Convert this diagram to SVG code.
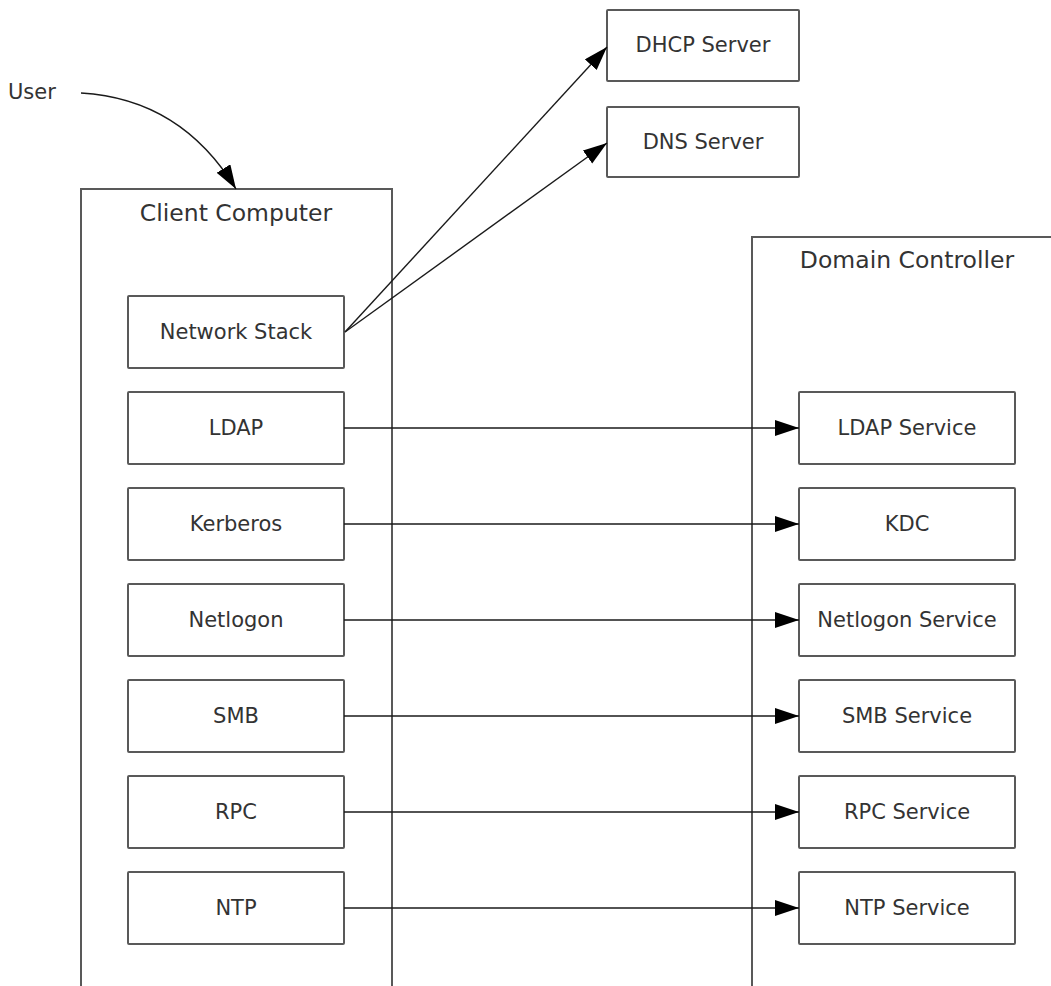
<svg xmlns="http://www.w3.org/2000/svg" width="1051" height="986" viewBox="0 0 1051 986">
<style>
.box{fill:#fff;stroke:#595959;stroke-width:2}
.cont{fill:none;stroke:#595959;stroke-width:2}
.lbl{font-family:"DejaVu Sans",Verdana,sans-serif;font-size:21px;fill:#333;text-anchor:middle}
.ttl{font-family:"DejaVu Sans",Verdana,sans-serif;font-size:23.5px;fill:#333;text-anchor:middle}
.con{fill:none;stroke:#1a1a1a;stroke-width:1.4}
</style>
<defs>
<marker id="arr" markerUnits="userSpaceOnUse" markerWidth="26" markerHeight="18" refX="24" refY="8" orient="auto">
<path d="M0,0 L24,8 L0,16 z" fill="#000"/>
</marker>
</defs>
<rect width="1051" height="986" fill="#fff"/>
<g id="client-computer">
<rect class="cont" x="81" y="189" width="311" height="830"/>
<text class="ttl" x="236" y="221">Client Computer</text>
</g>
<g id="domain-controller">
<rect class="cont" x="752" y="237" width="330" height="790"/>
<text class="ttl" x="907" y="268">Domain Controller</text>
</g>
<g id="user"><text class="lbl" x="8" y="99" style="text-anchor:start">User</text></g>
<g id="dhcp"><rect class="box" x="607" y="10" width="192" height="71" rx="1"/><text class="lbl" x="703" y="52">DHCP Server</text></g>
<g id="dns"><rect class="box" x="607" y="107" width="192" height="70" rx="1"/><text class="lbl" x="703" y="149">DNS Server</text></g>
<g id="network-stack"><rect class="box" x="128" y="296" width="216" height="72" rx="1"/><text class="lbl" x="236" y="339">Network Stack</text></g>
<g id="ldap"><rect class="box" x="128" y="392" width="216" height="72" rx="1"/><text class="lbl" x="236" y="435">LDAP</text></g>
<g id="kerberos"><rect class="box" x="128" y="488" width="216" height="72" rx="1"/><text class="lbl" x="236" y="531">Kerberos</text></g>
<g id="netlogon"><rect class="box" x="128" y="584" width="216" height="72" rx="1"/><text class="lbl" x="236" y="627">Netlogon</text></g>
<g id="smb"><rect class="box" x="128" y="680" width="216" height="72" rx="1"/><text class="lbl" x="236" y="723">SMB</text></g>
<g id="rpc"><rect class="box" x="128" y="776" width="216" height="72" rx="1"/><text class="lbl" x="236" y="819">RPC</text></g>
<g id="ntp"><rect class="box" x="128" y="872" width="216" height="72" rx="1"/><text class="lbl" x="236" y="915">NTP</text></g>
<g id="ldap-service"><rect class="box" x="799" y="392" width="216" height="72" rx="1"/><text class="lbl" x="907" y="435">LDAP Service</text></g>
<g id="kdc"><rect class="box" x="799" y="488" width="216" height="72" rx="1"/><text class="lbl" x="907" y="531">KDC</text></g>
<g id="netlogon-service"><rect class="box" x="799" y="584" width="216" height="72" rx="1"/><text class="lbl" x="907" y="627">Netlogon Service</text></g>
<g id="smb-service"><rect class="box" x="799" y="680" width="216" height="72" rx="1"/><text class="lbl" x="907" y="723">SMB Service</text></g>
<g id="rpc-service"><rect class="box" x="799" y="776" width="216" height="72" rx="1"/><text class="lbl" x="907" y="819">RPC Service</text></g>
<g id="ntp-service"><rect class="box" x="799" y="872" width="216" height="72" rx="1"/><text class="lbl" x="907" y="915">NTP Service</text></g>
<g id="connectors">
<path class="con" d="M81,93 C150,97 200,130 236,189" marker-end="url(#arr)"/>
<path class="con" d="M345,332 L607,47" marker-end="url(#arr)"/>
<path class="con" d="M345,332 L607,143" marker-end="url(#arr)"/>
<path class="con" d="M344,428 H799" marker-end="url(#arr)"/>
<path class="con" d="M344,524 H799" marker-end="url(#arr)"/>
<path class="con" d="M344,620 H799" marker-end="url(#arr)"/>
<path class="con" d="M344,716 H799" marker-end="url(#arr)"/>
<path class="con" d="M344,812 H799" marker-end="url(#arr)"/>
<path class="con" d="M344,908 H799" marker-end="url(#arr)"/>
</g>
</svg>
